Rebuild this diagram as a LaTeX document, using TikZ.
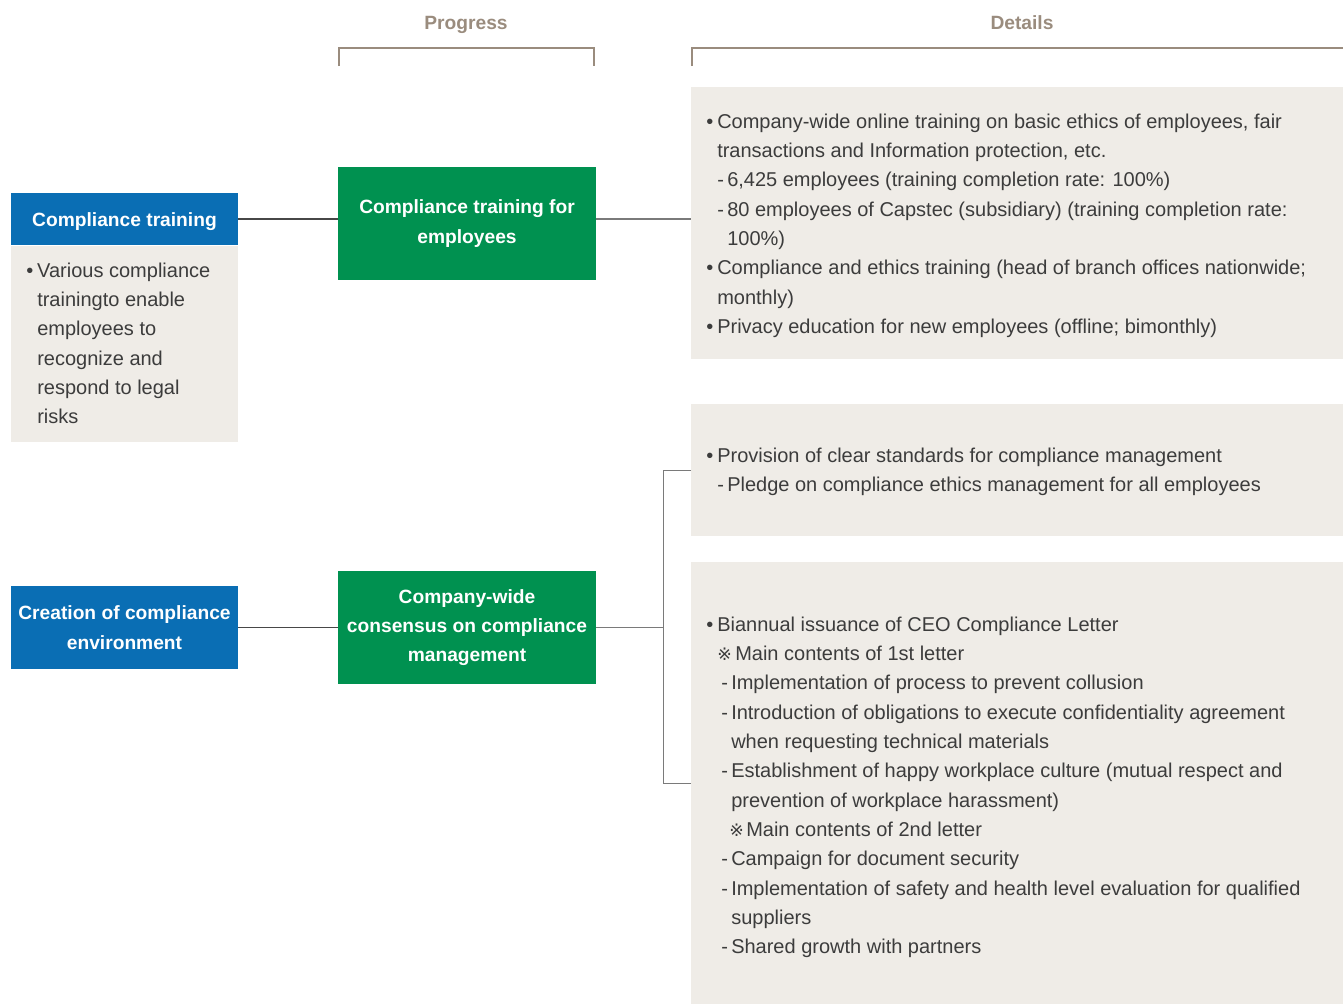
\documentclass[tikz,border=0pt]{standalone}
\usepackage{fontspec}
\setmainfont{Liberation Sans}
\newfontfamily\symfont{DejaVu Sans}

\definecolor{hdblue}{HTML}{0A6EB4}
\definecolor{hdgreen}{HTML}{009150}
\definecolor{boxgray}{HTML}{EFECE7}
\definecolor{txtgray}{HTML}{3C3C3C}
\definecolor{headtan}{HTML}{9A8C7E}

\newdimen\pxu \pxu=0.75pt
\newcommand{\bul}{\rule{0pt}{12pt}\makebox[11\pxu][l]{•}}
\newcommand{\ind}[1]{\hspace*{#1\pxu}}
\newcommand{\sub}[1]{\hspace*{#1\pxu}\makebox[10\pxu][l]{-}}
\newcommand{\kome}[2]{\hspace*{#1\pxu}\makebox[#2\pxu][l]{\symfont\fontsize{13}{22}\selectfont ※}}

\tikzset{
	catbox/.style={fill=hdblue, text=white, inner sep=0pt, align=center,
		font=\bfseries\fontsize{14.4}{22}\selectfont,
		execute at begin node=\rule{0pt}{15pt}},
	progbox/.style={catbox, fill=hdgreen, minimum width=258\pxu, minimum height=113\pxu},
	notebox/.style={fill=boxgray, inner sep=0pt, minimum width=652\pxu},
	notetext/.style={anchor=north west, align=left, inner sep=0pt, text=txtgray,
		font=\fontsize{15}{22}\selectfont},
	header/.style={text=headtan, anchor=base, font=\bfseries\fontsize{14.4}{18}\selectfont},
	link/.style={draw=black!72, line width=1pt},
	linkr/.style={draw=black!52, line width=1pt},
}

\begin{document}
\begin{tikzpicture}[x=0.75pt, y=-0.75pt]
	\useasboundingbox (0,0) rectangle (1343,1004);

	% column heads
	\node[header] (hprog) at (466,29) {Progress};
	\node[header] (hdet) at (1022,29) {Details};
	\draw[headtan, line width=1pt] (339,66) -- (339,48) -- (594,48) -- (594,66);
	\draw[headtan, line width=1pt] (692,66) -- (692,48) -- (1343,48);

	% left column
	\node[catbox, minimum width=227\pxu, minimum height=52\pxu] (cat1) at (124.5,219) {Compliance training};
	\node[notebox, minimum width=227\pxu, minimum height=196\pxu, anchor=north] (cat1note) at (cat1.south) {};
	\node[catbox, minimum width=227\pxu, minimum height=83\pxu] (cat2) at (124.5,627.5) {Creation of compliance\\environment};

	% middle column
	\node[progbox] (prog1) at (467,223.5) {Compliance training for\\employees};
	\node[progbox] (prog2) at (467,627.5) {Company-wide\\consensus on compliance\\management};

	% right column
	\node[notebox, minimum height=272\pxu, anchor=north west] (det1) at (691,87) {};
	\node[notebox, minimum height=132\pxu, anchor=north west] (det2) at (691,404) {};
	\node[notebox, minimum height=442\pxu, anchor=north west] (det3) at (691,562) {};

	\node[notetext] (cat1text) at (26,261) {\bul Various compliance\\
		\ind{11}trainingto enable\\
		\ind{11}employees to\\
		\ind{11}recognize and\\
		\ind{11}respond to legal\\
		\ind{11}risks};

	\node[notetext] (det1text) at (706,112) {\bul Company-wide online training on basic ethics of employees, fair\\
		\ind{11}transactions and Information protection, etc.\\
		\sub{11}6,425 employees (training completion rate: 100\%)\\
		\sub{11}80 employees of Capstec (subsidiary) (training completion rate:\\
		\ind{21}100\%)\\
		\bul Compliance and ethics training (head of branch offices nationwide;\\
		\ind{11}monthly)\\
		\bul Privacy education for new employees (offline; bimonthly)};

	\node[notetext] (det2text) at (706,446) {\bul Provision of clear standards for compliance management\\
		\sub{11}Pledge on compliance ethics management for all employees};

	\node[notetext] (det3text) at (706,615) {\bul Biannual issuance of CEO Compliance Letter\\
		\kome{11}{18}Main contents of 1st letter\\
		\sub{15}Implementation of process to prevent collusion\\
		\sub{15}Introduction of obligations to execute confidentiality agreement\\
		\ind{25}when requesting technical materials\\
		\sub{15}Establishment of happy workplace culture (mutual respect and\\
		\ind{25}prevention of workplace harassment)\\
		\kome{23}{17}Main contents of 2nd letter\\
		\sub{15}Campaign for document security\\
		\sub{15}Implementation of safety and health level evaluation for qualified\\
		\ind{25}suppliers\\
		\sub{15}Shared growth with partners};

	% connectors
	\draw[link] (cat1.east) -- (cat1.east -| prog1.west);
	\draw[linkr] (prog1.east |- cat1.east) -- (det1.west |- cat1.east);
	\draw[link] (cat2.east) -- (prog2.west);
	\path (prog2.east) ++(67,0) coordinate (split);
	\draw[linkr] (prog2.east) -- (split);
	\draw[linkr] (det2.west) -| (split) |- (det3.west);
\end{tikzpicture}
\end{document}
